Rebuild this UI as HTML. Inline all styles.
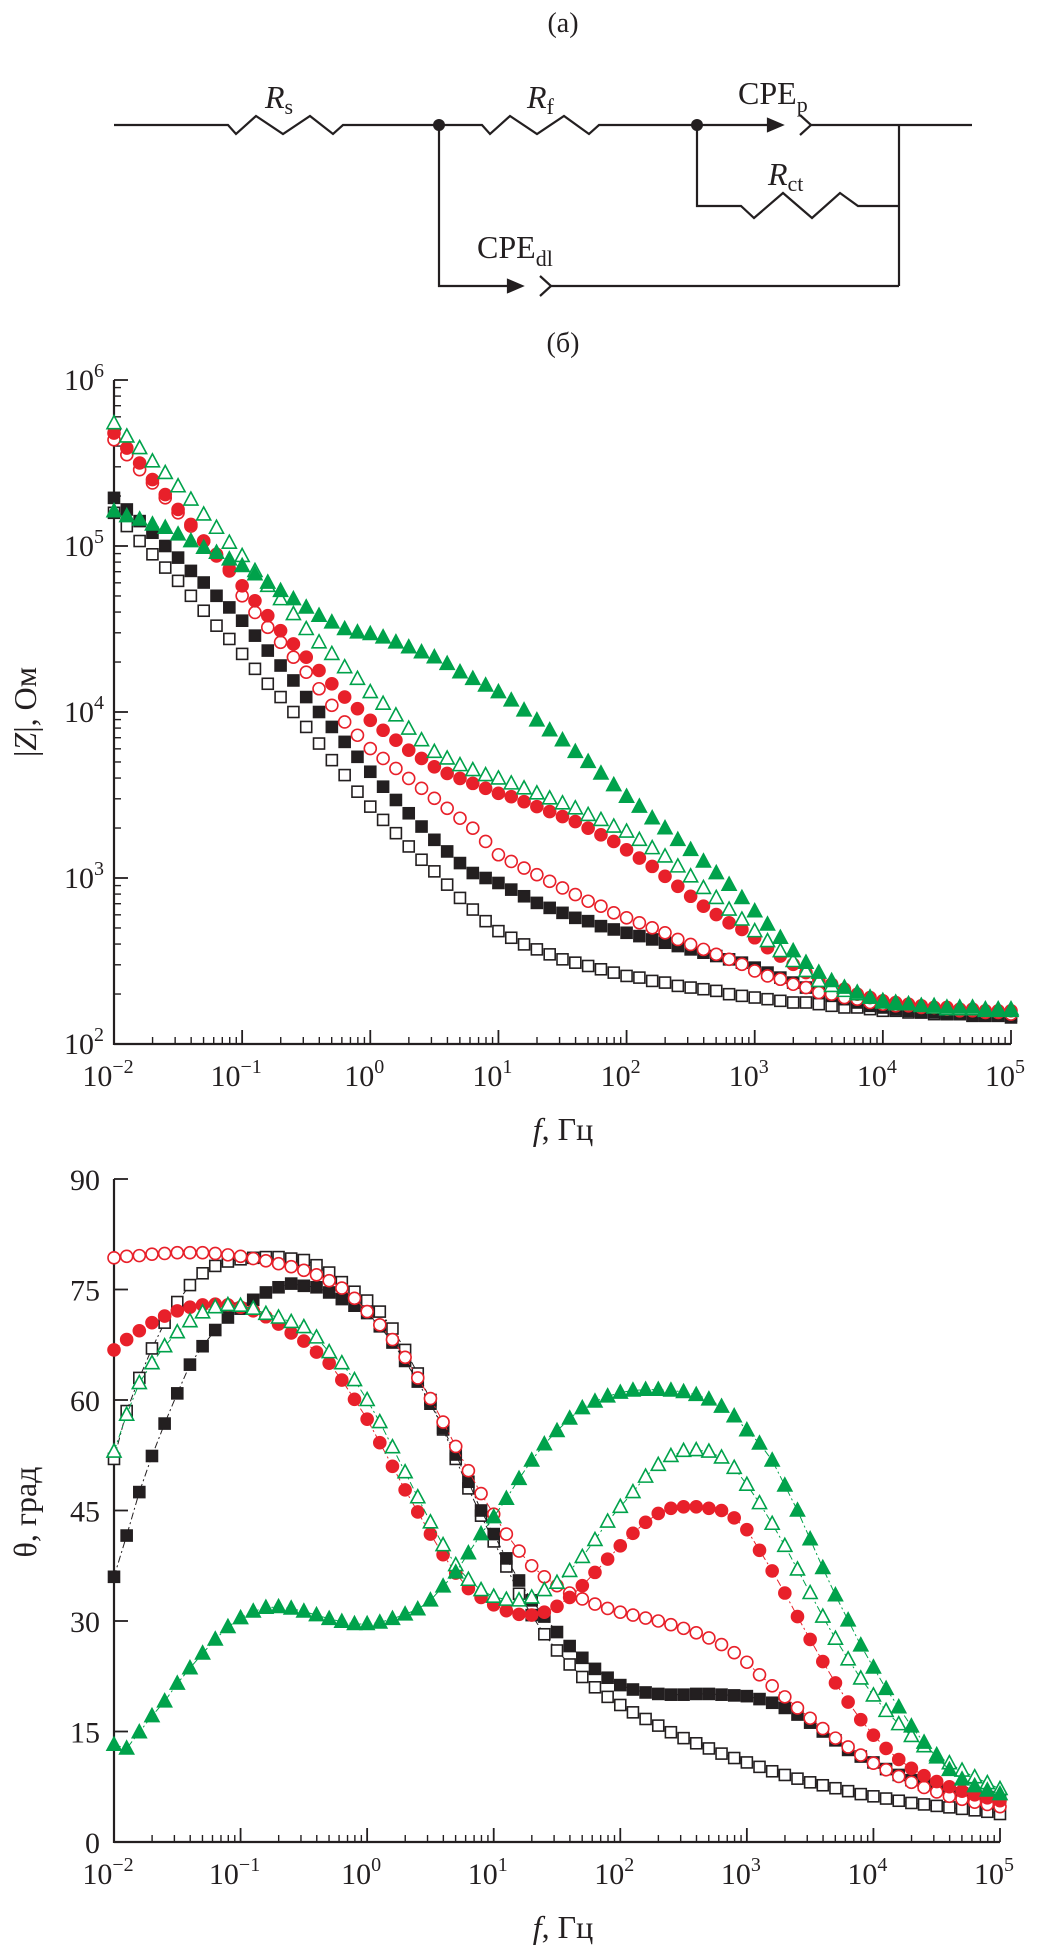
<!DOCTYPE html>
<html><head><meta charset="utf-8"><style>
html,body{margin:0;padding:0;background:#fff}
svg{display:block;font-family:"Liberation Serif",serif}
</style></head><body>
<svg id="fig" width="1038" height="1954" viewBox="0 0 1038 1954" xmlns="http://www.w3.org/2000/svg">
<g stroke="#231f20" stroke-width="2.2" fill="none">
  <text x="563" y="32" font-size="28" fill="#231f20" stroke="none" text-anchor="middle">(a)</text>
  <polyline points="114,125 228,125 236,134 256,116 283,134 310,116 333,134 343,125 439,125"/>
  <polyline points="439,125 482,125 490,134 510,116 537,134 564,116 589,134 599,125 697,125 770,125"/>
  <polygon points="768,119 782,125 768,131" fill="#231f20"/>
  <polyline points="800,115 811,125 800,135"/>
  <line x1="811" y1="125" x2="972" y2="125"/>
  <line x1="899" y1="125" x2="899" y2="286"/>
  <polyline points="697,125 697,206 741,206 754,218 783,193 812,218 840,193 858,206 899,206"/>
  <polyline points="439,125 439,286 510,286"/>
  <polygon points="508,280 522,286 508,292" fill="#231f20"/>
  <polyline points="540,276 551,286 540,296"/>
  <line x1="551" y1="286" x2="899" y2="286"/>
  <circle cx="439" cy="125" r="6" fill="#231f20" stroke="none"/>
  <circle cx="697" cy="125" r="6" fill="#231f20" stroke="none"/>
  <g fill="#231f20" stroke="none" font-size="32">
    <text x="265" y="108"><tspan font-style="italic">R</tspan><tspan font-size="22" dy="6">s</tspan></text>
    <text x="527" y="108"><tspan font-style="italic">R</tspan><tspan font-size="22" dy="6">f</tspan></text>
    <text x="738" y="104">CPE<tspan font-size="22" dy="8">p</tspan></text>
    <text x="768" y="185"><tspan font-style="italic">R</tspan><tspan font-size="22" dy="6">ct</tspan></text>
    <text x="477" y="258">CPE<tspan font-size="22" dy="8">dl</tspan></text>
  </g>
  <text x="563" y="352" font-size="28" fill="#231f20" stroke="none" text-anchor="middle">(б)</text>
</g>
<g id="topChart"></g>
<g id="botChart"></g>
</svg>
<script>
// frequency exponents (log10 f), 10 points per decade from 1e-2 to 1e5
const freqExp = [];
for (let i = 0; i <= 70; i++) freqExp.push(-2 + i / 10);
const xTickExp = [-2,-1,0,1,2,3,4,5];
const xTickLabels = ["−2","−1","0","1","2","3","4","5"];
const zTickExp = [2,3,4,5,6];
const phaseTicks = [0,15,30,45,60,75,90];

// log10 |Z| (Ohm)
const logZOpenSquare = [5.20,5.12,5.03,4.95,4.87,4.79,4.70,4.61,4.52,4.44,4.35,4.26,4.17,4.09,4.00,3.91,3.81,3.71,3.62,3.52,3.43,3.35,3.27,3.19,3.11,3.04,2.96,2.88,2.81,2.74,2.68,2.64,2.60,2.57,2.54,2.51,2.49,2.47,2.45,2.43,2.41,2.40,2.38,2.37,2.35,2.34,2.33,2.32,2.30,2.29,2.28,2.27,2.26,2.25,2.25,2.24,2.23,2.22,2.22,2.21,2.20,2.20,2.19,2.19,2.18,2.18,2.18,2.17,2.17,2.17,2.17];
const logZFilledSquare = [5.29,5.22,5.15,5.08,5.00,4.93,4.85,4.78,4.70,4.63,4.55,4.46,4.37,4.28,4.19,4.09,4.00,3.91,3.82,3.73,3.64,3.55,3.47,3.39,3.31,3.23,3.16,3.09,3.03,3.00,2.97,2.93,2.89,2.85,2.82,2.79,2.76,2.74,2.71,2.69,2.67,2.65,2.63,2.61,2.59,2.57,2.55,2.53,2.51,2.49,2.46,2.43,2.40,2.37,2.34,2.31,2.29,2.27,2.25,2.23,2.22,2.21,2.20,2.19,2.19,2.18,2.18,2.17,2.17,2.17,2.16];
const logZOpenCircle = [5.64,5.55,5.46,5.38,5.29,5.20,5.12,5.03,4.95,4.86,4.70,4.60,4.51,4.42,4.33,4.24,4.14,4.04,3.94,3.86,3.78,3.72,3.66,3.60,3.54,3.48,3.42,3.36,3.30,3.22,3.14,3.10,3.06,3.02,2.98,2.94,2.90,2.86,2.83,2.79,2.76,2.73,2.70,2.67,2.63,2.60,2.57,2.54,2.51,2.48,2.44,2.41,2.39,2.36,2.34,2.31,2.30,2.28,2.27,2.25,2.24,2.23,2.23,2.22,2.22,2.21,2.20,2.20,2.19,2.19,2.18];
const logZFilledCircle = [5.68,5.59,5.50,5.40,5.31,5.22,5.13,5.03,4.94,4.85,4.76,4.67,4.58,4.49,4.41,4.33,4.25,4.17,4.09,4.02,3.95,3.89,3.83,3.77,3.72,3.67,3.63,3.60,3.57,3.54,3.51,3.49,3.46,3.43,3.40,3.37,3.34,3.30,3.26,3.22,3.17,3.12,3.07,3.01,2.95,2.89,2.83,2.78,2.73,2.69,2.64,2.58,2.53,2.48,2.43,2.39,2.36,2.33,2.30,2.28,2.26,2.25,2.24,2.23,2.22,2.22,2.21,2.21,2.20,2.20,2.20];
const logZOpenTriangle = [5.74,5.66,5.59,5.51,5.44,5.36,5.28,5.19,5.11,5.02,4.94,4.85,4.76,4.68,4.59,4.50,4.42,4.35,4.27,4.20,4.12,4.05,3.98,3.90,3.83,3.76,3.72,3.68,3.65,3.62,3.60,3.57,3.54,3.51,3.48,3.45,3.42,3.38,3.35,3.31,3.28,3.23,3.18,3.13,3.07,3.01,2.94,2.88,2.81,2.75,2.68,2.62,2.56,2.50,2.44,2.38,2.35,2.32,2.30,2.28,2.26,2.25,2.24,2.23,2.22,2.21,2.21,2.21,2.20,2.20,2.20];
const logZFilledTriangle = [5.21,5.18,5.16,5.13,5.11,5.07,5.03,4.99,4.96,4.92,4.88,4.83,4.78,4.73,4.68,4.63,4.58,4.54,4.50,4.48,4.47,4.45,4.42,4.39,4.36,4.33,4.29,4.24,4.20,4.16,4.12,4.07,4.01,3.95,3.89,3.83,3.76,3.70,3.63,3.56,3.49,3.43,3.36,3.30,3.23,3.17,3.10,3.03,2.96,2.88,2.80,2.72,2.64,2.56,2.49,2.43,2.38,2.34,2.31,2.28,2.25,2.24,2.24,2.23,2.23,2.22,2.22,2.22,2.21,2.21,2.21];

// phase angle θ (deg)
const thetaOpenSquare = [52,58.5,63,67,70.5,73.3,75.6,77.2,78.2,78.8,79.1,79.3,79.4,79.4,79.2,79,78.3,77.3,76,74.7,73.5,72,69.7,66.8,63.6,60,56,52,48,44.3,40.8,37.4,33.7,30.8,28.2,26,24.1,22.4,21,19.7,18.6,17.6,16.7,15.8,14.9,14.1,13.4,12.7,12,11.4,10.8,10.2,9.6,9.1,8.6,8.1,7.7,7.3,6.9,6.5,6.2,5.9,5.6,5.3,5.1,4.9,4.7,4.5,4.3,4.1,3.8];
const thetaFilledSquare = [36,41.6,47.5,52.4,56.8,60.9,64.8,67.3,69.5,71.2,72.4,73.6,74.6,75.3,75.8,75.5,75.3,74.6,73.7,72.8,71.8,70,67.8,65.3,62.5,59.5,56.2,52.6,48.9,45,41.8,38.5,35.5,32.8,30.6,28.5,26.6,25,23.5,22.3,21.3,20.7,20.3,20.1,20,20,20.1,20.1,20,19.9,19.8,19.4,18.9,18.2,17.3,16.2,15,13.8,12.5,11.6,10.8,9.9,9.1,8.4,7.8,7.3,6.9,6.6,6.3,6.1,6];
const thetaOpenCircle = [79.3,79.5,79.6,79.8,79.9,80,80,80,79.9,79.7,79.5,79.2,78.9,78.5,78.1,77.6,77,76.2,75.2,73.8,72,70.2,68.2,65.8,63,60.2,57,53.7,50.4,47.3,44.5,41.8,39.5,37.5,36,34.8,33.8,33,32.3,31.7,31.2,30.8,30.4,30,29.5,29,28.4,27.7,26.8,25.7,24.4,22.7,21.2,19.7,18.2,16.8,15.4,14.1,12.9,11.8,10.7,9.8,8.9,8.1,7.4,6.8,6.2,5.8,5.4,5.1,4.8];
const thetaFilledCircle = [66.8,68.2,69.4,70.5,71.4,72.1,72.6,72.9,73,72.9,72.6,72.1,71.3,70.3,69.1,68,66.5,65,62.7,60.1,57.4,54.2,51,47.8,44.8,41.8,39,36.5,34.4,33.2,32.2,31.4,30.9,30.8,31.2,32,33.2,34.8,36.6,38.4,40.2,41.9,43.4,44.6,45.3,45.5,45.5,45.3,45,44,42.4,39.6,36.8,33.8,30.6,27.5,24.5,21.6,19,16.6,14.5,12.7,11.2,10,9,8.2,7.5,6.9,6.4,6,5.6];
const thetaOpenTriangle = [53,58,62.3,65,67.3,69.2,70.7,71.9,72.6,72.9,72.8,72.4,71.7,71.2,70.6,69.9,68.5,66.5,65,62.7,60,57,53.6,50.2,46.8,43.4,40.3,37.6,35.6,34.2,33.3,32.9,32.8,33.2,34.2,35.2,36.8,38.7,41,43.5,45.5,47.5,49.6,51.2,52.4,53.1,53.2,53,52.2,50.8,48.5,46,43.2,40.2,37,33.8,30.6,27.6,24.8,22.2,19.9,17.8,16,14.4,13,11.8,10.7,9.7,8.8,8,7.2];
const thetaFilledTriangle = [13.2,12.7,14.9,17.1,19.1,21.5,23.6,25.6,27.5,29.2,30.4,31.3,31.8,31.9,31.7,31.3,30.8,30.3,29.9,29.6,29.6,29.8,30.3,30.9,31.6,32.8,34.7,36.6,39.2,41.8,44.1,46.6,49.3,51.8,54,55.8,57.5,58.9,59.8,60.5,61,61.3,61.4,61.4,61.3,61.1,60.7,60.1,59.1,57.8,55.9,54.1,51.8,48.4,45,41.1,37.2,33.5,30.1,26.7,23.7,20.8,18.3,15.7,13.5,11.5,9.8,8.5,7.6,7,6.5];

const NS = "http://www.w3.org/2000/svg";
const RED = "#e8202a", GREEN = "#00a24b", BLACK = "#231f20";
function mk(tag, attrs, parent) {
  const e = document.createElementNS(NS, tag);
  for (const k in attrs) e.setAttribute(k, attrs[k]);
  parent.appendChild(e);
  return e;
}
// axis functions
const xTop = e => 114 + (e + 2) * (1011 - 114) / 7;
const yTop = L => 380 + (6 - L) * 166;
const xBot = e => 114 + (e + 2) * (1000 - 114) / 7;
const yBot = t => 1842 - t * (1842 - 1179) / 90;

function drawMarker(g, shape, filled, color, cx, cy, name) {
  let el;
  const fill = filled ? color : "#fff";
  if (shape === "square") {
    el = mk("rect", {x: cx - 5.5, y: cy - 5.5, width: 11, height: 11, fill: fill, stroke: color, "stroke-width": 1.6}, g);
  } else if (shape === "circle") {
    el = mk("circle", {cx: cx, cy: cy, r: 6, fill: fill, stroke: color, "stroke-width": 1.6}, g);
  } else {
    el = mk("polygon", {points: `${cx},${cy - 7.5} ${cx + 7},${cy + 5.5} ${cx - 7},${cy + 5.5}`, fill: fill, stroke: color, "stroke-width": 1.6}, g);
  }
  
  
}

function drawSeries(parent, vals, xf, yf, shape, filled, color, name, line) {
  const g = mk("g", {}, parent);
  
  
  const pts = vals.map((v, i) => [xf(freqExp[i]), yf(v)]);
  if (line) {
    const pl = mk("polyline", {points: pts.map(p => p.join(",")).join(" "), fill: "none", stroke: color, "stroke-width": 1, "stroke-dasharray": "7,3,2,3"}, g);
    
    
  }
  pts.forEach(p => drawMarker(g, shape, filled, color, p[0], p[1], name + '-point'));
}

function superLabel(parent, x, y, sup, name, anchor) {
  const t = mk("text", {x: x, y: y, "font-size": 30, fill: BLACK, "text-anchor": anchor}, parent);
  t.textContent = "10";
  const s = mk("tspan", {dy: -13, "font-size": 20}, t);
  s.textContent = sup;
  
  
}

function logXAxis(g, xf, y0, x0) {
  mk("line", {x1: x0, y1: y0, x2: xf(5), y2: y0, stroke: BLACK, "stroke-width": 2.2}, g);
  for (let d = -2; d <= 5; d++) {
    mk("line", {x1: xf(d), y1: y0, x2: xf(d), y2: y0 - 14, stroke: BLACK, "stroke-width": 1.8}, g);
    if (d < 5) for (let m = 2; m <= 9; m++) {
      const xx = xf(d + Math.log10(m));
      mk("line", {x1: xx, y1: y0, x2: xx, y2: y0 - 7, stroke: BLACK, "stroke-width": 1.4}, g);
    }
  }
}

// ---------- top chart ----------
const topG = document.getElementById("topChart");
(function () {
  const ax = mk("g", {}, topG);
  
  
  mk("line", {x1: 114, y1: yTop(6), x2: 114, y2: yTop(2) + 1, stroke: BLACK, "stroke-width": 2.2}, ax);
  for (let d = 2; d <= 6; d++) {
    mk("line", {x1: 114, y1: yTop(d), x2: 128, y2: yTop(d), stroke: BLACK, "stroke-width": 1.8}, ax);
    if (d < 6) for (let m = 2; m <= 9; m++) {
      const yy = yTop(d + Math.log10(m));
      mk("line", {x1: 114, y1: yy, x2: 121, y2: yy, stroke: BLACK, "stroke-width": 1.4}, ax);
    }
  }
  logXAxis(ax, xTop, yTop(2), 114);
  zTickExp.forEach(d => superLabel(ax, 104, yTop(d) + 10, String(d), 'y-tick-label', 'end'));
  xTickExp.forEach((d, i) => superLabel(ax, xTop(d) - 6, 1086, xTickLabels[i], 'x-tick-label', 'middle'));
  const xt = mk("text", {x: 563, y: 1140, "font-size": 32, fill: BLACK, "text-anchor": "middle"}, ax);
  xt.innerHTML = '<tspan font-style="italic">f</tspan>, Гц';
  
  
  const yt = mk("text", {x: 0, y: 0, "font-size": 32, fill: BLACK, "text-anchor": "middle", transform: "translate(36,712) rotate(-90)"}, ax);
  yt.innerHTML = '|<tspan font-style="italic">Z</tspan>|, Ом';
  
  
  drawSeries(topG, logZOpenSquare, xTop, yTop, "square", false, BLACK, "z-open-square", false);
  drawSeries(topG, logZFilledSquare, xTop, yTop, "square", true, BLACK, "z-filled-square", false);
  drawSeries(topG, logZOpenCircle, xTop, yTop, "circle", false, RED, "z-open-circle", false);
  drawSeries(topG, logZFilledCircle, xTop, yTop, "circle", true, RED, "z-filled-circle", false);
  drawSeries(topG, logZOpenTriangle, xTop, yTop, "triangle", false, GREEN, "z-open-triangle", false);
  drawSeries(topG, logZFilledTriangle, xTop, yTop, "triangle", true, GREEN, "z-filled-triangle", false);
})();

// ---------- bottom chart ----------
const botG = document.getElementById("botChart");
(function () {
  const ax = mk("g", {}, botG);
  
  
  mk("line", {x1: 114, y1: yBot(90), x2: 114, y2: yBot(0) + 1, stroke: BLACK, "stroke-width": 2.2}, ax);
  phaseTicks.forEach(t => {
    mk("line", {x1: 114, y1: yBot(t), x2: 128, y2: yBot(t), stroke: BLACK, "stroke-width": 1.8}, ax);
    const lb = mk("text", {x: 100, y: yBot(t) + 11, "font-size": 30, fill: BLACK, "text-anchor": "end"}, ax);
    lb.textContent = String(t);
    
    
  });
  logXAxis(ax, xBot, yBot(0), 114);
  xTickExp.forEach((d, i) => superLabel(ax, xBot(d) - 6, 1884, xTickLabels[i], 'x-tick-label', 'middle'));
  const xt = mk("text", {x: 563, y: 1938, "font-size": 32, fill: BLACK, "text-anchor": "middle"}, ax);
  xt.innerHTML = '<tspan font-style="italic">f</tspan>, Гц';
  
  
  const yt = mk("text", {x: 0, y: 0, "font-size": 32, fill: BLACK, "text-anchor": "middle", transform: "translate(36,1512) rotate(-90)"}, ax);
  yt.textContent = 'θ, град';
  
  
  drawSeries(botG, thetaOpenSquare, xBot, yBot, "square", false, BLACK, "phase-open-square", true);
  drawSeries(botG, thetaFilledSquare, xBot, yBot, "square", true, BLACK, "phase-filled-square", true);
  drawSeries(botG, thetaOpenCircle, xBot, yBot, "circle", false, RED, "phase-open-circle", true);
  drawSeries(botG, thetaFilledCircle, xBot, yBot, "circle", true, RED, "phase-filled-circle", true);
  drawSeries(botG, thetaOpenTriangle, xBot, yBot, "triangle", false, GREEN, "phase-open-triangle", true);
  drawSeries(botG, thetaFilledTriangle, xBot, yBot, "triangle", true, GREEN, "phase-filled-triangle", true);
})();
</script>
</body></html>
